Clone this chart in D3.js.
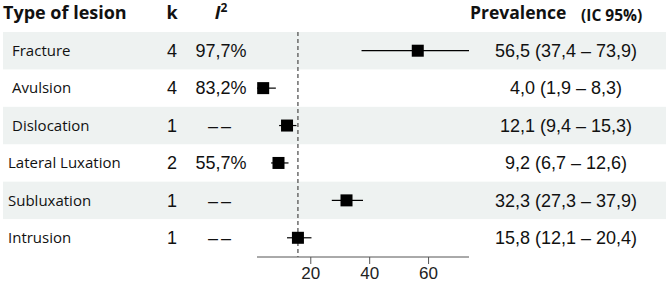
<!DOCTYPE html>
<html>
<head>
<meta charset="utf-8">
<title>Prevalence by type of lesion</title>
<style>
body { margin: 0; background: #fff; }
.label { font: 15px "Open Sans", sans-serif; fill: #111; }
.num { font: 18px "Liberation Sans", Arial, sans-serif; fill: #111; }
.head { font-family: "Open Sans", sans-serif; font-weight: bold; fill: #111; }
.axis path, .axis line { stroke: #555; }
.axis text { font: 17px "Liberation Sans", Arial, sans-serif; fill: #222; }
</style>
</head>
<body>
<script src="https://cdn.jsdelivr.net/npm/d3@7"></script>
<script>
// values
var lesions = ["Fracture", "Avulsion", "Dislocation", "Lateral Luxation", "Subluxation", "Intrusion"];
var kValues = [4, 4, 1, 2, 1, 1];
var i2Values = ["97,7%", "83,2%", "--", "55,7%", "--", "--"];
var prevalence = [56.5, 4.0, 12.1, 9.2, 32.3, 15.8];
var lower = [37.4, 1.9, 9.4, 6.7, 27.3, 12.1];
var upper = [73.9, 8.3, 15.3, 12.6, 37.9, 20.4];
var xTicks = [20, 40, 60];
var refValue = 15.8; // dashed reference line

var width = 666, height = 288;

var rows = lesions.map(function(d, i) {
    return {name: d, k: kValues[i], i2: i2Values[i], p: prevalence[i], lo: lower[i], hi: upper[i]};
});

var comma = function(v) { return d3.format(".1f")(v).replace(".", ","); };

var svg = d3.select("body").append("svg")
    .attr("width", width)
    .attr("height", height);

var y = d3.scaleBand()
    .domain(lesions)
    .range([32, 256.5]);

var x = d3.scaleLinear()
    .domain([d3.min(lower), d3.max(upper)])
    .range([257, 469]);

// shaded bands on every other row
svg.selectAll(".band")
    .data(rows.filter(function(d, i) { return i % 2 == 0; }))
    .enter().append("rect")
    .attr("class", "band")
    .attr("x", 3)
    .attr("width", width - 3)
    .attr("y", function(d) { return y(d.name); })
    .attr("height", y.bandwidth())
    .style("fill", "#eef2f1");

// headers
svg.append("text").attr("class", "head")
    .attr("x", 3).attr("y", 19)
    .style("font-size", "18px")
    .text("Type of lesion");

svg.append("text").attr("class", "head")
    .attr("x", 172).attr("y", 19)
    .style("font-size", "18px")
    .style("text-anchor", "middle")
    .text("k");

var i2head = svg.append("text").attr("class", "head")
    .attr("x", 221).attr("y", 19)
    .style("font-size", "18px")
    .style("text-anchor", "middle");
i2head.append("tspan").style("font-style", "italic").text("I");
i2head.append("tspan").attr("dy", -7).style("font-size", "12px").text("2");

svg.append("text").attr("class", "head")
    .attr("x", 470).attr("y", 19)
    .style("font-size", "17.5px")
    .text("Prevalence");

svg.append("text").attr("class", "head")
    .attr("x", 581).attr("y", 21)
    .style("font-size", "15.5px")
    .text("(IC 95%)");

// dashed reference line
svg.append("line")
    .attr("x1", x(refValue)).attr("x2", x(refValue))
    .attr("y1", 32).attr("y2", 257)
    .style("stroke", "#555")
    .style("stroke-width", 1.3)
    .style("stroke-dasharray", "4,3");

var row = svg.selectAll(".row")
    .data(rows)
    .enter().append("g")
    .attr("class", "row")
    .attr("transform", function(d) { return "translate(0," + (y(d.name) + y.bandwidth() / 2) + ")"; });

row.append("text").attr("class", "label")
    .attr("x", function(d, i) { return i < 3 ? 12 : 8; })
    .attr("dy", "0.35em")
    .text(function(d) { return d.name; });

row.append("text").attr("class", "num")
    .attr("x", 172)
    .attr("dy", "0.35em")
    .style("text-anchor", "middle")
    .text(function(d) { return d.k; });

row.append("text").attr("class", "num")
    .attr("x", 221)
    .attr("dy", "0.35em")
    .style("text-anchor", "middle")
    .style("letter-spacing", function(d) { return d.i2 == "--" ? "3px" : null; })
    .text(function(d) { return d.i2 == "--" ? "\u2013\u2013" : d.i2; });

row.append("text").attr("class", "num")
    .attr("x", 566)
    .attr("dy", "0.35em")
    .style("text-anchor", "middle")
    .text(function(d) { return comma(d.p) + " (" + comma(d.lo) + " \u2013 " + comma(d.hi) + ")"; });

// confidence intervals and point estimates
row.append("line")
    .attr("x1", function(d) { return x(d.lo); })
    .attr("x2", function(d) { return x(d.hi); })
    .style("stroke", "#000")
    .style("stroke-width", 1.2);

row.append("rect")
    .attr("x", function(d) { return x(d.p) - 6; })
    .attr("y", -6)
    .attr("width", 12)
    .attr("height", 12)
    .style("fill", "#000");

// x axis
svg.append("g")
    .attr("class", "axis")
    .attr("transform", "translate(0,257)")
    .call(d3.axisBottom(x).tickValues(xTicks).tickSize(7).tickSizeOuter(0).tickPadding(3))
    .call(function(g) { g.select(".domain").attr("d", "M" + x.range()[0] + ",0H" + x.range()[1]); });
</script>
</body>
</html>
